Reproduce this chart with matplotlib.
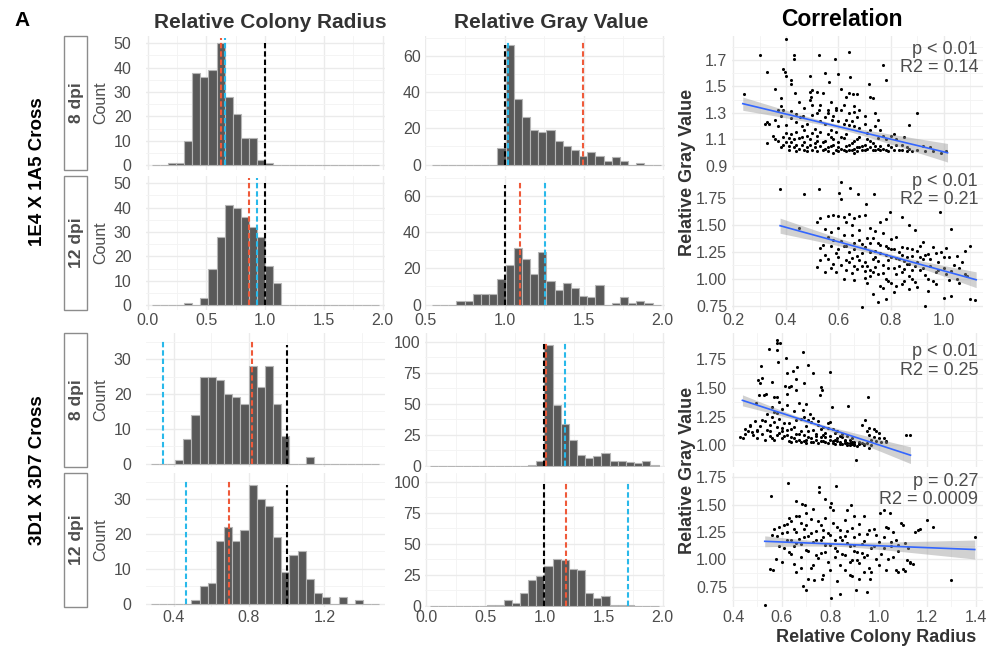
import numpy as np
import matplotlib
matplotlib.use("Agg")
import matplotlib.pyplot as plt
from matplotlib.patches import Rectangle

plt.rcParams['font.family'] = ['Liberation Sans', 'DejaVu Sans']

W, H = 994, 652
TXT = '#4d4d4d'
RED = '#ef5a3a'
BLUE = '#29b9ea'

# ---------------- histogram data (28 bins each) ----------------
# (left edge of first bin, bin width)
bins_rad_top = (0.0345, 0.06897)
bins_gray_top = (0.541, 0.0517)
bins_rad_bot = (0.277, 0.0434)
bins_gray_bot = (0.0345, 0.06897)

rad_top_8 = [0, 0, 1, 1, 10, 38, 36, 39, 50, 28, 21, 11, 11, 2, 1] + [0] * 13
rad_top_12 = [0, 0, 0, 0, 1, 0, 3, 15, 28, 41, 40, 36, 32, 28, 16, 9] + [0] * 12
gray_top_8 = [0] * 8 + [9, 66, 36, 26, 19, 18, 19, 13, 10, 8, 5, 7, 5, 2, 4, 2, 0, 1, 0, 0]
gray_top_12 = [0, 0, 0, 2, 2, 6, 6, 6, 14, 22, 31, 25, 17, 29, 13, 8, 12, 9, 5, 4,
               11, 0, 1, 4, 1, 2, 1, 0]
rad_bot_8 = [0, 0, 0, 1, 7, 14, 25, 25, 24, 20, 19, 17, 28, 22, 28, 17, 8, 0, 0, 2] + [0] * 8
rad_bot_12 = [0, 0, 0, 0, 0, 1, 5, 6, 18, 22, 18, 21, 34, 30, 28, 19, 9, 14, 15, 7,
              3, 2, 0, 2, 0, 1, 0, 0]
gray_bot_8 = [0] * 12 + [1, 4, 97, 49, 34, 21, 9, 6, 8, 10, 4, 4, 3, 2, 4, 1]
gray_bot_12 = [0] * 7 + [1, 1, 5, 2, 10, 21, 24, 32, 38, 37, 30, 29, 10, 6, 8, 1, 1, 1] + [0] * 3

# dashed reference lines: red, blue, black
vl_rad_top_8 = [0.625, 0.662, 1.0]
vl_rad_top_12 = [0.864, 0.932, 1.0]
vl_gray_top_8 = [1.496, 1.021, 1.0]
vl_gray_top_12 = [1.095, 1.256, 1.0]
vl_rad_bot_8 = [0.814, 0.345, 1.0]
vl_rad_bot_12 = [0.694, 0.464, 1.0]
vl_gray_bot_8 = [1.014, 1.172, 1.0]
vl_gray_bot_12 = [1.18, 1.71, 1.0]

# ---------------- scatter data (colony radius, gray value) ----------------
s1_pts = [(0.24, 1.44), (0.30, 1.74), (0.33, 1.61), (0.40, 1.86), (0.39, 1.63), (0.395, 1.61),
          (0.40, 1.58), (0.43, 1.74), (0.43, 1.71), (0.42, 1.55), (0.36, 1.48), (0.38, 1.41),
          (0.38, 1.35), (0.37, 1.32), (0.42, 1.52), (0.435, 1.45), (0.49, 1.58), (0.525, 1.74),
          (0.49, 1.46), (0.495, 1.42), (0.49, 1.40), (0.50, 1.47), (0.52, 1.46), (0.54, 1.45),
          (0.55, 1.60), (0.565, 1.53), (0.585, 1.71), (0.60, 1.59), (0.64, 1.76), (0.645, 1.57),
          (0.61, 1.48), (0.64, 1.45), (0.655, 1.44), (0.63, 1.42), (0.67, 1.44), (0.715, 1.52),
          (0.72, 1.42), (0.73, 1.41), (0.77, 1.66), (0.78, 1.55), (0.66, 1.35), (0.66, 1.31),
          (0.67, 1.27), (0.32, 1.22), (0.33, 1.235), (0.335, 1.215), (0.37, 1.20), (0.38, 1.28),
          (0.39, 1.32), (0.42, 1.315), (0.42, 1.26), (0.44, 1.29), (0.455, 1.27), (0.465, 1.28),
          (0.50, 1.285), (0.52, 1.30), (0.525, 1.32), (0.56, 1.32), (0.56, 1.30), (0.59, 1.335),
          (0.59, 1.32), (0.61, 1.32), (0.575, 1.25), (0.60, 1.24), (0.62, 1.22), (0.63, 1.25),
          (0.64, 1.21), (0.66, 1.20), (0.68, 1.19), (0.70, 1.22), (0.74, 1.30), (0.75, 1.25),
          (0.74, 1.20), (0.72, 1.17), (0.90, 1.30), (0.87, 1.21), (0.55, 1.22), (0.53, 1.24),
          (0.48, 1.22), (0.46, 1.20), (0.44, 1.23), (0.40, 1.21), (0.36, 1.25), (0.51, 1.18),
          (0.57, 1.17), (0.47, 1.17), (0.33, 1.075), (0.36, 1.10), (0.39, 1.12), (0.40, 1.08),
          (0.41, 1.05), (0.42, 1.14), (0.43, 1.10), (0.44, 1.06), (0.45, 1.03), (0.46, 1.12),
          (0.47, 1.08), (0.48, 1.04), (0.49, 1.10), (0.50, 1.02), (0.51, 1.07), (0.52, 1.13),
          (0.53, 1.05), (0.54, 1.02), (0.55, 1.09), (0.56, 1.04), (0.57, 1.12), (0.58, 1.06),
          (0.59, 1.02), (0.60, 1.08), (0.61, 1.03), (0.62, 1.11), (0.63, 1.05), (0.64, 1.02),
          (0.65, 1.07), (0.66, 1.03), (0.67, 1.10), (0.68, 1.04), (0.69, 1.02), (0.70, 1.06),
          (0.71, 1.03), (0.72, 1.09), (0.73, 1.02), (0.74, 1.05), (0.75, 1.03), (0.77, 1.13),
          (0.78, 1.10), (0.80, 1.125), (0.81, 1.14), (0.82, 1.06), (0.83, 1.02), (0.84, 1.02),
          (0.85, 1.12), (0.86, 1.04), (0.88, 1.01), (0.90, 1.02), (0.92, 1.05), (0.96, 1.01),
          (0.99, 1.00), (1.01, 1.01), (0.38, 1.04), (0.44, 1.01), (0.52, 1.01), (0.58, 1.00),
          (0.63, 1.01), (0.67, 1.01), (0.76, 1.02), (0.79, 1.01),
          (0.35, 1.13), (0.37, 1.09), (0.39, 1.06), (0.40, 1.15), (0.41, 1.11), (0.42, 1.08),
          (0.43, 1.04), (0.44, 1.16), (0.45, 1.11), (0.46, 1.06), (0.47, 1.02), (0.48, 1.13),
          (0.49, 1.06), (0.50, 1.15), (0.51, 1.04), (0.52, 1.09), (0.53, 1.16), (0.54, 1.08),
          (0.55, 1.03), (0.56, 1.14), (0.57, 1.05), (0.58, 1.10), (0.59, 1.16), (0.60, 1.04),
          (0.61, 1.12), (0.62, 1.02), (0.63, 1.14), (0.64, 1.06), (0.65, 1.02), (0.66, 1.09),
          (0.67, 1.04), (0.68, 1.12), (0.69, 1.05), (0.70, 1.02), (0.71, 1.10), (0.72, 1.04),
          (0.73, 1.07), (0.74, 1.02), (0.75, 1.11), (0.76, 1.05), (0.77, 1.03), (0.78, 1.02),
          (0.80, 1.04), (0.81, 1.02), (0.82, 1.10), (0.53, 1.36), (0.57, 1.38), (0.62, 1.36),
          (0.58, 1.28), (0.64, 1.30), (0.68, 1.32), (0.70, 1.28), (0.47, 1.34), (0.45, 1.38),
          (0.50, 1.36), (0.55, 1.27), (0.65, 1.24), (0.71, 1.15), (0.76, 1.17), (0.79, 1.06),
          (0.84, 1.06), (0.87, 1.03), (0.93, 1.01), (0.95, 1.04), (0.86, 1.01), (0.66, 1.00),
          (0.60, 1.01), (0.56, 1.01), (0.48, 1.01), (0.41, 1.02)]

s2_pts = [(0.378, 1.83), (0.47, 1.78), (0.526, 1.83), (0.61, 1.89), (0.644, 1.84), (0.603, 1.79),
          (0.61, 1.74), (0.676, 1.78), (0.736, 1.78), (0.705, 1.69), (0.796, 1.62), (0.987, 1.62),
          (0.45, 1.47), (0.517, 1.52), (0.53, 1.56), (0.56, 1.58), (0.58, 1.59), (0.60, 1.58),
          (0.62, 1.57), (0.64, 1.60), (0.66, 1.56), (0.68, 1.58), (0.70, 1.59), (0.63, 1.52),
          (0.65, 1.50), (0.78, 1.55), (0.76, 1.52), (0.84, 1.57), (0.87, 1.50), (0.55, 1.46),
          (0.57, 1.43), (0.60, 1.47), (0.62, 1.40), (0.68, 1.45), (0.72, 1.47), (0.74, 1.44),
          (0.77, 1.42), (0.80, 1.37), (0.82, 1.39), (0.89, 1.45), (0.92, 1.34), (1.03, 1.46),
          (0.53, 1.28), (0.55, 1.22), (0.57, 1.10), (0.58, 1.14), (0.60, 1.27), (0.62, 1.00),
          (0.63, 1.30), (0.65, 1.05), (0.66, 1.33), (0.67, 1.21), (0.68, 1.36), (0.69, 1.12),
          (0.70, 1.15), (0.71, 1.38), (0.72, 1.08), (0.73, 1.18), (0.74, 1.26), (0.75, 1.04),
          (0.76, 1.31), (0.77, 1.13), (0.78, 1.22), (0.79, 0.98), (0.80, 1.27), (0.81, 1.10),
          (0.82, 1.19), (0.83, 1.25), (0.84, 1.06), (0.85, 1.16), (0.86, 1.28), (0.87, 1.02),
          (0.88, 1.21), (0.89, 1.12), (0.90, 1.26), (0.91, 1.08), (0.92, 1.18), (0.93, 1.03),
          (0.94, 1.23), (0.95, 1.12), (0.96, 1.29), (0.97, 1.06), (0.98, 1.15), (0.99, 1.25),
          (1.00, 1.10), (1.01, 1.04), (1.02, 1.20), (1.04, 1.13), (1.05, 1.00), (1.07, 1.15),
          (1.08, 1.26), (1.09, 1.02), (1.10, 1.30), (0.69, 0.74), (0.75, 0.78), (0.78, 0.81),
          (0.93, 0.75), (1.00, 0.82), (1.03, 0.84), (1.10, 0.81), (1.12, 0.80), (0.73, 0.86),
          (0.81, 0.88), (0.87, 0.90), (0.94, 0.89), (0.71, 0.96), (0.76, 0.93), (0.84, 0.95),
          (0.56, 1.18), (0.59, 1.06), (0.64, 1.15), (0.66, 1.12), (0.70, 1.01), (0.72, 1.25),
          (0.74, 1.11), (0.79, 1.17), (0.83, 1.12), (0.88, 1.08), (0.91, 1.20), (0.96, 0.98),
          (0.60, 1.20), (0.61, 1.13), (0.62, 1.30), (0.63, 1.17), (0.64, 1.25), (0.65, 1.19),
          (0.66, 1.27), (0.67, 1.09), (0.68, 1.17), (0.69, 1.24), (0.70, 1.29), (0.71, 1.12),
          (0.72, 1.33), (0.73, 1.06), (0.74, 1.20), (0.75, 1.16), (0.76, 1.24), (0.77, 1.05),
          (0.78, 1.30), (0.79, 1.10), (0.80, 1.20), (0.81, 1.27), (0.82, 1.04), (0.83, 1.18),
          (0.84, 1.29), (0.85, 1.09), (0.86, 1.20), (0.87, 1.14), (0.88, 1.27), (0.89, 0.97),
          (0.90, 1.15), (0.91, 1.30), (0.92, 1.10), (0.93, 1.22), (0.94, 1.00), (0.95, 1.18),
          (0.97, 1.24), (0.98, 1.08), (1.00, 1.20), (1.01, 1.28), (1.03, 1.07), (1.05, 1.21),
          (1.06, 1.10), (1.08, 1.04), (0.57, 1.30), (0.58, 1.36), (0.59, 1.24), (0.55, 1.06),
          (0.53, 1.17), (0.52, 1.11), (0.54, 1.31), (0.56, 1.39), (0.61, 1.35), (0.65, 1.40),
          (0.69, 1.32), (0.73, 1.38), (0.75, 1.33), (0.79, 1.28), (0.84, 1.22), (0.86, 1.14),
          (0.70, 1.07), (0.72, 1.02), (0.78, 1.00), (0.80, 0.96), (0.82, 0.93), (0.85, 0.98),
          (0.90, 0.92), (0.97, 0.95), (1.02, 0.99), (1.06, 0.96), (0.66, 0.99), (0.63, 1.08),
          (0.77, 0.91), (0.88, 1.00)]

s3_pts = [(0.579, 1.92), (0.581, 1.89), (0.592, 1.89), (0.547, 1.84), (0.579, 1.83), (0.688, 1.81),
          (0.617, 1.76), (0.585, 1.73), (0.513, 1.69), (0.709, 1.70), (0.661, 1.68), (0.622, 1.63),
          (0.645, 1.65), (0.73, 1.63), (0.80, 1.64), (0.503, 1.57), (0.52, 1.59), (0.51, 1.54),
          (0.558, 1.55), (0.537, 1.45), (0.528, 1.44), (0.507, 1.44), (0.493, 1.37), (0.581, 1.42),
          (0.613, 1.52), (0.631, 1.51), (0.658, 1.48), (0.693, 1.54), (0.764, 1.51), (0.766, 1.48),
          (0.757, 1.44), (0.702, 1.36), (0.688, 1.31), (0.716, 1.27), (0.956, 1.42), (0.874, 1.34),
          (0.808, 1.33), (0.427, 1.07), (0.448, 1.145), (0.469, 1.166), (0.476, 1.116),
          (0.499, 1.137), (0.51, 1.17), (0.52, 1.10), (0.53, 1.21), (0.54, 1.13), (0.55, 1.08),
          (0.56, 1.25), (0.57, 1.05), (0.58, 1.16), (0.59, 1.11), (0.60, 1.06), (0.61, 1.19),
          (0.62, 1.09), (0.63, 1.04), (0.64, 1.14), (0.65, 1.06), (0.66, 1.22), (0.67, 1.05),
          (0.68, 1.12), (0.69, 1.04), (0.70, 1.17), (0.71, 1.07), (0.72, 1.03), (0.73, 1.13),
          (0.74, 1.05), (0.75, 1.21), (0.76, 1.04), (0.77, 1.09), (0.78, 1.03), (0.79, 1.15),
          (0.80, 1.05), (0.81, 1.02), (0.82, 1.11), (0.83, 1.04), (0.84, 1.01), (0.85, 1.07),
          (0.86, 1.02), (0.87, 1.00), (0.88, 1.05), (0.89, 1.01), (0.90, 1.03), (0.943, 1.22),
          (0.95, 1.12), (0.96, 1.09), (0.97, 1.05), (0.98, 1.14), (0.99, 1.04), (1.00, 1.11),
          (1.02, 1.06), (1.03, 1.03), (1.114, 1.087), (1.13, 1.087), (0.908, 0.87), (0.96, 0.98),
          (0.53, 1.05), (0.55, 1.18), (0.57, 1.29), (0.60, 1.12), (0.62, 1.35), (0.64, 1.07),
          (0.66, 1.10), (0.68, 1.23), (0.70, 1.05), (0.72, 1.20), (0.74, 1.10), (0.76, 1.14),
          (0.78, 1.07), (0.80, 1.20), (0.82, 1.05), (0.84, 1.08), (0.86, 1.04), (0.88, 1.02),
          (0.90, 1.00), (0.92, 1.03), (0.94, 1.01), (0.46, 1.12), (0.49, 1.21), (0.50, 1.06),
          (0.55, 1.12), (0.56, 1.06), (0.57, 1.20), (0.58, 1.09), (0.59, 1.23), (0.60, 1.15),
          (0.61, 1.08), (0.62, 1.13), (0.63, 1.19), (0.64, 1.03), (0.65, 1.16), (0.66, 1.04),
          (0.67, 1.10), (0.68, 1.03), (0.69, 1.09), (0.70, 1.02), (0.71, 1.12), (0.72, 1.06),
          (0.73, 1.03), (0.74, 1.08), (0.75, 1.02), (0.76, 1.07), (0.77, 1.04), (0.78, 1.11),
          (0.79, 1.02), (0.80, 1.08), (0.81, 1.04), (0.82, 1.01), (0.83, 1.06), (0.84, 1.03),
          (0.85, 1.01), (0.86, 1.05), (0.87, 1.02), (0.88, 1.00), (0.89, 1.03), (0.90, 1.01),
          (0.91, 0.99), (0.92, 1.01), (0.93, 1.02), (0.94, 1.00), (0.95, 1.02), (0.97, 1.00),
          (0.58, 1.28), (0.60, 1.32), (0.59, 1.38), (0.57, 1.42), (0.56, 1.33), (0.54, 1.27),
          (0.52, 1.22), (0.50, 1.12), (0.48, 1.09), (0.45, 1.10), (0.44, 1.06), (0.47, 1.18),
          (0.65, 1.30), (0.67, 1.37), (0.69, 1.25), (0.71, 1.22), (0.73, 1.24), (0.75, 1.18),
          (0.77, 1.16), (0.79, 1.19), (0.81, 1.14), (0.83, 1.12), (0.85, 1.10), (0.87, 1.08),
          (0.89, 1.06), (0.98, 1.07), (1.00, 1.06), (1.01, 1.03), (1.03, 1.04), (0.99, 1.12),
          (0.96, 1.15), (0.93, 1.18), (0.62, 1.45), (0.64, 1.52), (0.66, 1.58)]

s4_pts = [(0.53, 0.58), (0.627, 1.70), (0.754, 1.66), (0.822, 1.67), (0.554, 1.576), (0.754, 1.616),
          (0.658, 1.53), (0.682, 1.51), (0.695, 1.50), (0.778, 1.55), (0.805, 1.52), (0.885, 1.50),
          (1.004, 1.42), (1.022, 1.45), (1.046, 1.42), (1.20, 1.36), (1.224, 1.30), (1.396, 1.20),
          (1.297, 0.81), (0.55, 0.915), (0.565, 0.90), (0.576, 1.00), (0.688, 0.76), (0.70, 0.717),
          (0.734, 0.81), (0.768, 0.82), (0.805, 0.65), (0.84, 0.686), (0.906, 0.716), (0.963, 0.82),
          (1.03, 0.90), (1.073, 0.905), (1.10, 0.915), (1.118, 0.99), (1.128, 0.975),
          (0.56, 1.22), (0.59, 1.30), (0.61, 1.10), (0.62, 1.25), (0.63, 1.38), (0.64, 1.05),
          (0.65, 1.28), (0.66, 1.15), (0.67, 1.40), (0.68, 1.02), (0.69, 1.20), (0.70, 1.31),
          (0.71, 1.08), (0.72, 1.24), (0.73, 0.95), (0.74, 1.18), (0.75, 1.35), (0.76, 1.06),
          (0.77, 1.27), (0.78, 1.13), (0.79, 0.98), (0.80, 1.22), (0.81, 1.45), (0.82, 1.10),
          (0.83, 1.30), (0.84, 0.95), (0.85, 1.18), (0.86, 1.04), (0.87, 1.26), (0.88, 1.12),
          (0.89, 0.99), (0.90, 1.20), (0.91, 1.07), (0.92, 1.32), (0.93, 1.14), (0.94, 1.02),
          (0.95, 1.23), (0.96, 0.92), (0.97, 1.10), (0.98, 1.28), (1.00, 1.16), (1.01, 1.05),
          (1.03, 1.30), (1.05, 1.12), (1.06, 1.25), (1.08, 1.08), (1.09, 1.33), (1.11, 1.15),
          (1.13, 0.97), (1.15, 1.25), (1.17, 1.28), (0.60, 0.98), (0.64, 1.18), (0.66, 0.88),
          (0.70, 1.42), (0.72, 0.92), (0.74, 1.04), (0.78, 1.38), (0.80, 0.90), (0.82, 1.02),
          (0.84, 1.20), (0.86, 1.36), (0.88, 0.86), (0.90, 1.08), (0.92, 0.97), (0.94, 1.40),
          (0.99, 1.00), (1.02, 1.20), (1.04, 1.00), (1.07, 1.18), (0.68, 1.33), (0.76, 1.18),
          (0.57, 1.28), (0.58, 1.21), (0.59, 1.12), (0.60, 1.24), (0.61, 1.31), (0.62, 1.18),
          (0.63, 1.07), (0.64, 1.35), (0.65, 1.12), (0.66, 1.25), (0.67, 1.19), (0.68, 1.14),
          (0.69, 1.28), (0.70, 1.09), (0.71, 1.21), (0.72, 1.37), (0.73, 1.16), (0.74, 1.26),
          (0.75, 1.01), (0.76, 1.31), (0.77, 1.20), (0.78, 1.07), (0.79, 1.24), (0.80, 1.13),
          (0.81, 1.33), (0.82, 1.18), (0.83, 1.08), (0.84, 1.27), (0.85, 1.05), (0.86, 1.21),
          (0.87, 1.15), (0.88, 0.98), (0.89, 1.29), (0.90, 1.13), (0.91, 0.99), (0.92, 1.23),
          (0.93, 1.06), (0.94, 1.17), (0.95, 1.04), (0.96, 1.27), (0.97, 0.88), (0.98, 1.12),
          (0.99, 1.22), (1.00, 0.95), (1.02, 1.10), (1.04, 1.29), (1.05, 1.16), (1.06, 1.02),
          (1.08, 1.13), (1.10, 1.31), (1.12, 1.10), (0.62, 1.32), (0.65, 0.96), (0.68, 0.92),
          (0.71, 0.82), (0.77, 0.86), (0.83, 0.80), (0.86, 0.90), (0.89, 0.85), (0.92, 0.82),
          (0.95, 0.70), (0.94, 0.88), (0.87, 1.45), (0.80, 1.48), (0.73, 1.46), (0.66, 1.40),
          (0.90, 1.40), (1.08, 0.88), (1.11, 0.89), (1.14, 0.96), (1.16, 1.27)]

# regression fits: x0, x1, y0, y1 ; band half-widths: left, narrowest, right, x of narrowest
fit_s1 = [0.236, 1.015, 1.37, 1.00]
ci_s1 = [0.05, 0.015, 0.07, 0.58]
fit_s2 = [0.378, 1.124, 1.49, 0.99]
ci_s2 = [0.07, 0.02, 0.073, 0.78]
fit_s3 = [0.438, 1.131, 1.392, 0.913]
ci_s3 = [0.048, 0.015, 0.073, 0.72]
fit_s4 = [0.53, 1.396, 1.165, 1.09]
ci_s4 = [0.05, 0.02, 0.087, 0.82]

stats_s1 = ['p < 0.01', 'R2 = 0.14']
stats_s2 = ['p < 0.01', 'R2 = 0.21']
stats_s3 = ['p < 0.01', 'R2 = 0.25']
stats_s4 = ['p = 0.27', 'R2 = 0.0009']


fig = plt.figure(figsize=(W / 100, H / 100), dpi=100)


def px_axes(x0, y0, x1, y1):
    return fig.add_axes([x0 / W, 1 - y1 / H, (x1 - x0) / W, (y1 - y0) / H])


def ftext(x, y, s, **kw):
    fig.text(x / W, 1 - y / H, s, **kw)


def style(ax, xlim, ylim, xt, xm, yt, ym, xfmt, yfmt, show_x, ypad):
    ax.set_xlim(xlim)
    ax.set_ylim(ylim)
    ax.set_xticks(xt)
    ax.set_xticks(xm, minor=True)
    ax.set_yticks(yt)
    ax.set_yticks(ym, minor=True)
    ax.set_yticklabels([yfmt.format(v) for v in yt])
    if show_x:
        ax.set_xticklabels([xfmt.format(v) for v in xt])
    else:
        ax.set_xticklabels([])
    ax.grid(True, which='major', color='#ebebeb', lw=1.0)
    ax.grid(True, which='minor', color='#f3f3f3', lw=0.6)
    ax.set_axisbelow(True)
    for s in ax.spines.values():
        s.set_visible(False)
    ax.tick_params(which='both', length=0, labelsize=11.5, labelcolor=TXT)
    ax.tick_params(axis='y', pad=ypad)
    ax.tick_params(axis='x', pad=2.5)


def hist(ax, counts, bins, vl, black_top, col_top):
    left, width = bins
    edges = left + width * np.arange(len(counts))
    ax.bar(edges, counts, width=width, align='edge', color='#595959',
           edgecolor='#b5b5b5', linewidth=0.8, zorder=2)
    red, blue, black = vl
    dash = (0, (2.6, 1.4))
    ax.vlines(red, 0, col_top, colors=RED, linestyles=dash, lw=1.5, zorder=3)
    ax.vlines(blue, 0, col_top, colors=BLUE, linestyles=dash, lw=1.5, zorder=3)
    ax.vlines(black, 0, black_top, colors='black', linestyles=dash, lw=1.5, zorder=4)


def scatter(ax, pts, fit, ci, stats, y_px):
    xs = np.array([p[0] for p in pts])
    ys = np.array([p[1] for p in pts])
    x0, x1, y0, y1 = fit
    hl, hm, hr, xmid = ci
    gx = np.linspace(x0, x1, 100)
    gy = y0 + (y1 - y0) * (gx - x0) / (x1 - x0)
    cr = (hr ** 2 - hm ** 2) / (x1 - xmid) ** 2
    cl = (hl ** 2 - hm ** 2) / (xmid - x0) ** 2
    k = np.where(gx > xmid, cr, cl)
    h = np.sqrt(hm ** 2 + k * (gx - xmid) ** 2)
    ax.scatter(xs, ys, s=5, color='black', linewidths=0, zorder=2)
    ax.fill_between(gx, gy - h, gy + h, color='#999999', alpha=0.45, lw=0, zorder=3)
    ax.plot(gx, gy, color='#3366ff', lw=1.2, zorder=4)
    ftext(978, y_px[0], stats[0], ha='right', va='center', fontsize=13, color=TXT)
    ftext(978, y_px[1], stats[1], ha='right', va='center', fontsize=13, color=TXT)


# ---------------- layout (pixel boxes) ----------------
rows = [(36, 170), (176, 310), (333, 467), (473, 607)]
C1 = (146, 385)
C2 = (425, 665)
C3 = (732, 983)

hist_specs = [
    # counts, bins, lines, black_top, col_top, row, col
    (rad_top_8, bins_rad_top, vl_rad_top_8, 50, 52, 0, 1),
    (rad_top_12, bins_rad_top, vl_rad_top_12, 50, 52, 1, 1),
    (gray_top_8, bins_gray_top, vl_gray_top_8, 66, 68.5, 0, 2),
    (gray_top_12, bins_gray_top, vl_gray_top_12, 66, 68.5, 1, 2),
    (rad_bot_8, bins_rad_bot, vl_rad_bot_8, 34, 35.5, 2, 1),
    (rad_bot_12, bins_rad_bot, vl_rad_bot_12, 34, 35.5, 3, 1),
    (gray_bot_8, bins_gray_bot, vl_gray_bot_8, 98, 100.5, 2, 2),
    (gray_bot_12, bins_gray_bot, vl_gray_bot_12, 98, 100.5, 3, 2),
]

axis_specs = {
    (0, 1): dict(xlim=(-0.014, 2.02), ylim=(-2.0, 53.0), xt=[0, 0.5, 1, 1.5, 2],
                 xm=[0.25, 0.75, 1.25, 1.75], yt=[0, 10, 20, 30, 40, 50],
                 ym=[5, 15, 25, 35, 45], xfmt='{:.1f}', yfmt='{:.0f}', ypad=10.5),
    (0, 2): dict(xlim=(0.497, 2.015), ylim=(-3.0, 71.0), xt=[0.5, 1, 1.5, 2],
                 xm=[0.75, 1.25, 1.75], yt=[0, 20, 40, 60], ym=[10, 30, 50, 70],
                 xfmt='{:.1f}', yfmt='{:.0f}', ypad=3),
    (1, 1): dict(xlim=(0.253, 1.522), ylim=(-1.0, 37.5), xt=[0.4, 0.8, 1.2],
                 xm=[0.6, 1.0, 1.4], yt=[0, 10, 20, 30], ym=[5, 15, 25, 35],
                 xfmt='{:.1f}', yfmt='{:.0f}', ypad=10.5),
    (1, 2): dict(xlim=(-0.01, 2.02), ylim=(-1.0, 107.0), xt=[0, 0.5, 1, 1.5, 2],
                 xm=[0.25, 0.75, 1.25, 1.75], yt=[0, 25, 50, 75, 100],
                 ym=[12.5, 37.5, 62.5, 87.5], xfmt='{:.1f}', yfmt='{:.0f}', ypad=3),
}

for counts, bins, vl, btop, ctop, r, c in hist_specs:
    y0, y1 = rows[r]
    x0, x1 = C1 if c == 1 else C2
    ax = px_axes(x0, y0, x1, y1)
    spec = axis_specs[(r // 2, c)]
    hist(ax, counts, bins, vl, btop, ctop)
    style(ax, spec['xlim'], spec['ylim'], spec['xt'], spec['xm'], spec['yt'], spec['ym'],
          spec['xfmt'], spec['yfmt'], r % 2 == 1, spec['ypad'])
    if c == 1:
        ax.set_ylabel('Count', fontsize=11.5, color=TXT)
        ax.yaxis.set_label_coords((108 - x0) / (x1 - x0), 0.5)

# ---------------- scatter panels ----------------
scatter_specs = [
    (s1_pts, fit_s1, ci_s1, stats_s1, 0, (0.195, 1.15), (0.87, 1.88),
     [0.9, 1.1, 1.3, 1.5, 1.7], [1.0, 1.2, 1.4, 1.6, 1.8], '{:.1f}', (49, 68)),
    (s2_pts, fit_s2, ci_s2, stats_s2, 1, (0.195, 1.15), (0.71, 1.95),
     [0.75, 1.0, 1.25, 1.5, 1.75], [0.875, 1.125, 1.375, 1.625, 1.875], '{:.2f}', (182, 199)),
    (s3_pts, fit_s3, ci_s3, stats_s3, 2, (0.395, 1.43), (0.81, 1.98),
     [1.0, 1.25, 1.5, 1.75], [0.875, 1.125, 1.375, 1.625, 1.875], '{:.2f}', (351, 370)),
    (s4_pts, fit_s4, ci_s4, stats_s4, 3, (0.395, 1.43), (0.564, 1.79),
     [0.75, 1.0, 1.25, 1.5, 1.75], [0.625, 0.875, 1.125, 1.375, 1.625], '{:.2f}', (482, 500)),
]
for pts, fit, ci, stats, r, xlim, ylim, yt, ym, yfmt, ty in scatter_specs:
    y0, y1 = rows[r]
    ax = px_axes(C3[0], y0, C3[1], y1)
    if r < 2:
        xt = [0.2, 0.4, 0.6, 0.8, 1.0]
        xm = [0.3, 0.5, 0.7, 0.9, 1.1]
    else:
        xt = [0.4, 0.6, 0.8, 1.0, 1.2, 1.4]
        xm = [0.5, 0.7, 0.9, 1.1, 1.3]
    scatter(ax, pts, fit, ci, stats, ty)
    style(ax, xlim, ylim, xt, xm, yt, ym, '{:.1f}', yfmt, r % 2 == 1, 3.5)

# ---------------- strips, titles, labels ----------------
strip_names = ['8 dpi', '12 dpi', '8 dpi', '12 dpi']
for (y0, y1), name in zip(rows, strip_names):
    fig.patches.append(Rectangle((64 / W, 1 - y1 / H), 23 / W, (y1 - y0) / H,
                                 transform=fig.transFigure, fill=False,
                                 edgecolor='#8c8c8c', lw=1.0))
    ftext(76, (y0 + y1) / 2, name, rotation=90, ha='center', va='center',
          fontsize=12.5, fontweight='bold', color=TXT)

ftext(22, 20, 'A', fontsize=15, fontweight='bold', ha='center', va='center')
ftext(270, 22, 'Relative Colony Radius', fontsize=15, fontweight='bold', ha='center', va='center',
      color='#333333')
ftext(551, 22, 'Relative Gray Value', fontsize=15, fontweight='bold', ha='center', va='center',
      color='#333333')
ftext(842, 19, 'Correlation', fontsize=16.5, fontweight='bold', ha='center', va='center')
ftext(38, 172, '1E4 X 1A5 Cross', rotation=90, fontsize=13.5, fontweight='bold',
      ha='center', va='center')
ftext(38, 470, '3D1 X 3D7 Cross', rotation=90, fontsize=13.5, fontweight='bold',
      ha='center', va='center')
ftext(688, 172, 'Relative Gray Value', rotation=90, fontsize=13, fontweight='bold',
      ha='center', va='center', color='#333333')
ftext(688, 470, 'Relative Gray Value', rotation=90, fontsize=13, fontweight='bold',
      ha='center', va='center', color='#333333')
ftext(876, 637, 'Relative Colony Radius', fontsize=13, fontweight='bold',
      ha='center', va='center', color='#333333')

fig.savefig('out.png', dpi=100)
